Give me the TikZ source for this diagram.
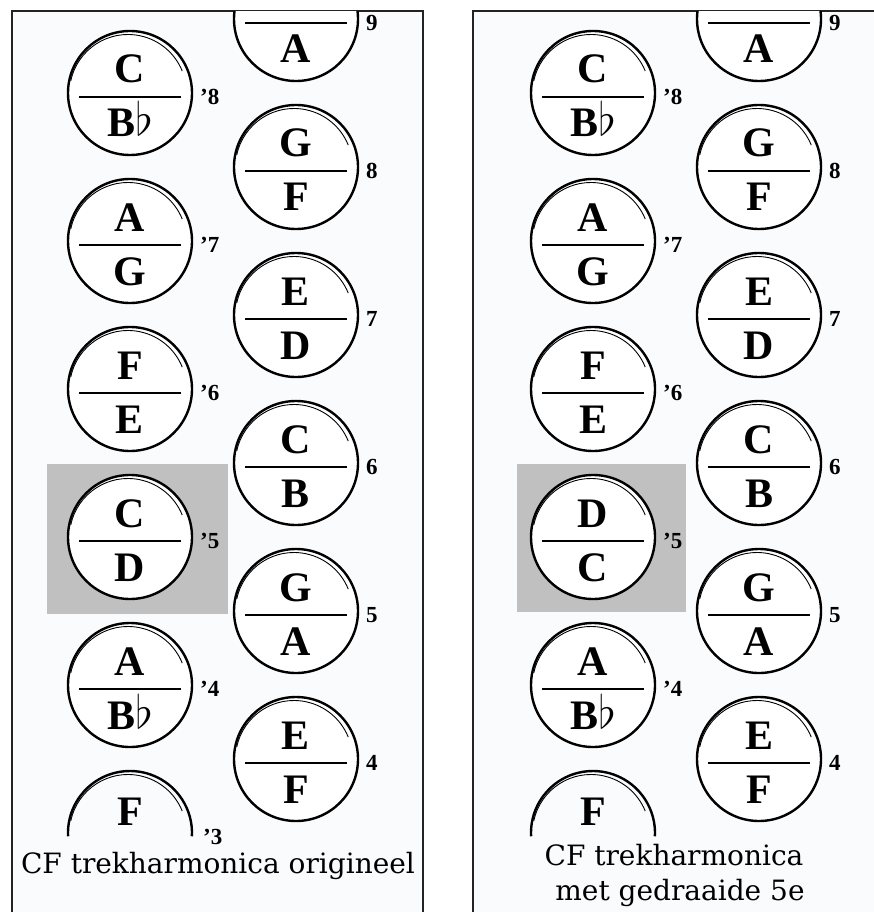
\RequirePackage{fix-cm}
\documentclass[tikz,border=0pt]{standalone}
\usepackage{fontspec}
\setmainfont{Liberation Serif}
\newfontfamily\capfont{DejaVu Serif}
\usepackage{xcolor}
\usepackage{tikz}
\usetikzlibrary{positioning}
\definecolor{framegray}{RGB}{35, 35, 35}
\definecolor{panelbg}{RGB}{250, 251, 252}
\definecolor{shadegray}{RGB}{192, 192, 192}
\newcommand{\mol}{\raisebox{1pt}{\fontsize{46}{46}\selectfont$\flat$}}

\begin{document}
\begin{tikzpicture}[x=1pt, y=1pt,
    knop/.style={circle, draw=black, fill=white, line width=2.4pt,
                 minimum size=124pt, inner sep=0pt},
    glans/.style={line width=0.9pt},
    toon/.style={anchor=base, inner sep=0pt, font=\bfseries\fontsize{42}{42}\selectfont},
    nr/.style={anchor=west, inner sep=0pt, font=\bfseries\fontsize{23}{23}\selectfont},
    paneel/.style={draw=framegray, line width=2pt, fill=panelbg},
    onderschrift/.style={anchor=base, inner sep=0pt, font=\capfont\fontsize{28}{28}\selectfont}
]
\useasboundingbox (0,0) rectangle (874,-912);

% panels and shaded 5th button
\draw[paneel] (12,-11) rectangle (423,-930);
\draw[paneel] (473,-11) rectangle (900,-930);
\fill[shadegray] (47,-464) rectangle (228,-614);
\fill[shadegray] (517,-464) rectangle (686,-612);

\begin{scope}
\clip (0,-12) rectangle (874,-912);
\foreach \dx/\pn/\vb/\vo in {0/L/C/D, 463/R/D/C} {
  \foreach \n/\x/\y/\t/\b/\l in {a8/130/93/C/B\mol/'8, a7/130/241/A/G/'7,
      a6/130/389/F/E/'6, a5/130/537/\vb/\vo/'5, a4/130/685/A/B\mol/'4,
      b9/296/19/{}/A/9, b8/296/167/G/F/8, b7/296/315/E/D/7,
      b6/296/463/C/B/6, b5/296/611/G/A/5, b4/296/759/E/F/4} {
    \node[knop] (\pn\n) at (\x+\dx,-\y) {};
    \draw[glans] ([shift={(168:58.5)}]\pn\n.center) ++(-2,0)
      arc[start angle=168, end angle=22, radius=58.5];
    \draw[line width=2.6pt] ([shift={(-51,-4)}]\pn\n.center) -- ([shift={(51,-4)}]\pn\n.center);
    \node[toon] (\pn\n-t) at ([yshift=10pt]\pn\n.center) {\t};
    \node[toon] (\pn\n-b) at ([yshift=-44pt]\pn\n.center) {\b};
    \node[nr] (\pn\n-n) at ([shift={(70,-4)}]\pn\n.center) {\l};
  }
  % half button at the bottom
  \node[circle, minimum size=124pt, inner sep=0pt] (\pn a3) at (130+\dx,-833) {};
  \draw[line width=2.4pt] ([shift={(183:62)}]\pn a3.center) arc[start angle=183, end angle=-3, radius=62];
  \draw[glans] ([shift={(168:58.5)}]\pn a3.center) ++(-2,0)
    arc[start angle=168, end angle=22, radius=58.5];
  \node[toon] (\pn a3-t) at ([yshift=8pt]\pn a3.center) {F};
}
\end{scope}
\node[nr] (La3-n) at ([shift={(73,-4)}]La3.center) {'3};

\node[onderschrift] (capL) at (218,-873) {CF trekharmonica origineel};
\node[onderschrift] (capR) at (674,-865) {CF trekharmonica};
\node[onderschrift] (capR2) at (680,-900) {met gedraaide 5e};

\end{tikzpicture}
\end{document}
